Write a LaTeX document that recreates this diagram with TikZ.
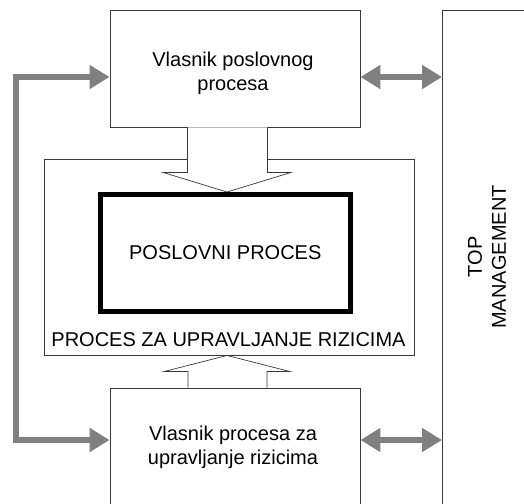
\documentclass[tikz,border=0pt]{standalone}
\usepackage{fontspec}
\setmainfont{Liberation Sans}
\usetikzlibrary{arrows.meta,calc}
\begin{document}
\begin{tikzpicture}[x=1pt,y=-1pt,
  txt/.style={font=\fontsize{20}{24}\selectfont, align=center, inner sep=0pt},
  thinbox/.style={txt, draw=black!78, line width=0.9pt, fill=white},
  ppbox/.style={txt, draw=black, line width=5pt, fill=white},
  hollow/.style={draw=black!78, line width=0.7pt, fill=white, line join=miter},
  grayarr/.style={draw=black!50, line width=6pt, line join=miter,
     {Triangle[length=20pt,width=23pt]}-{Triangle[length=20pt,width=23pt]}}
]
\useasboundingbox (0,0) rectangle (524,503);

% Top management column
\node[draw=black!78, line width=0.9pt, minimum width=110pt, minimum height=520pt,
      anchor=north west, inner sep=0pt] (tm) at (442,10) {};
\node[txt, rotate=90] (tmt) at (487,257) {TOP\\MANAGEMENT};

% boxes
\node[thinbox, minimum width=250pt, minimum height=117pt] (vpp) at (235,68.5) {};
\node[txt] (vppt) at (233,73) {Vlasnik poslovnog\\procesa};
\node[thinbox, minimum width=370pt, minimum height=196pt] (pzur) at (229,257) {};
\node[txt] (pzurl) at (228.5,340) {PROCES ZA UPRAVLJANJE RIZICIMA};
\node[ppbox, minimum width=249.5pt, minimum height=117pt] (pp) at (225.25,253)
  {POSLOVNI PROCES};
\node[thinbox, minimum width=250pt, minimum height=122pt] (vpr) at (235,449) {};
\node[txt] (vprt) at (233,447.5) {Vlasnik procesa za\\upravljanje rizicima};

% hollow arrow down
\filldraw[hollow] ($(vpp.south)+(-47.5,0)$) -- ($(vpp.south)+(-47.5,45)$)
  -- ($(vpp.south)+(-72,45)$) -- ($(pp.north)+(1.75,0)$)
  -- ($(vpp.south)+(56,45)$) -- ($(vpp.south)+(32.5,45)$)
  -- ($(vpp.south)+(32.5,0)$);
% hollow arrow up
\filldraw[hollow] ($(vpr.north)+(-47,0)$) -- ($(vpr.north)+(-47,-16)$)
  -- ($(vpr.north)+(-71,-16)$) -- ($(pzur.south)+(-2,0)$)
  -- ($(vpr.north)+(55,-16)$) -- ($(vpr.north)+(32,-16)$)
  -- ($(vpr.north)+(32,0)$);

% gray connectors
\coordinate (l1) at ($(vpp.west)+(0,8.5)$);
\coordinate (l2) at ($(vpr.west)+(0,-9)$);
\coordinate (r1) at ($(vpp.east)+(0,8.5)$);
\coordinate (r2) at ($(vpr.east)+(0,-9)$);
\draw[grayarr] (l1) -| (15.5,250) |- (l2);
\draw[grayarr] (r1) -- (r1 -| tm.west);
\draw[grayarr] (r2) -- (r2 -| tm.west);
\end{tikzpicture}
\end{document}
